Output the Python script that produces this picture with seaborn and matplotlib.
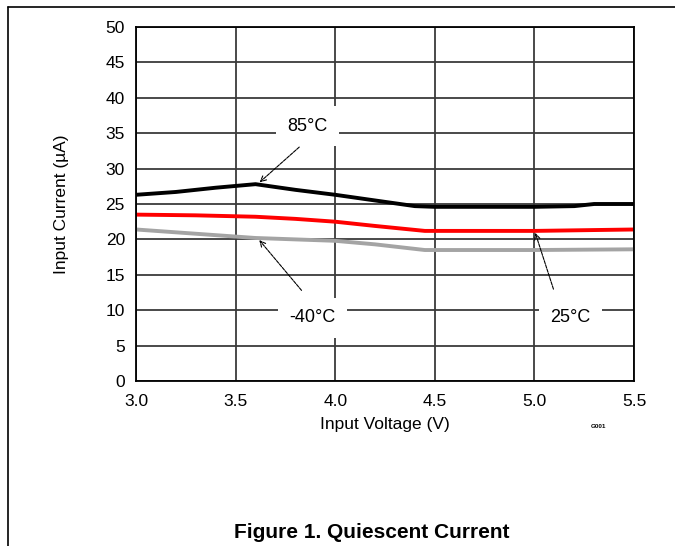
import matplotlib
matplotlib.use("Agg")
import matplotlib.pyplot as plt
import seaborn as sns
import pandas as pd

# Data
v_85 = [3.0, 3.2, 3.4, 3.6, 3.8, 4.0, 4.2, 4.4, 4.5, 5.0, 5.2, 5.3, 5.5]
i_85 = [26.3, 26.7, 27.3, 27.8, 27.0, 26.3, 25.5, 24.7, 24.6, 24.6, 24.7, 25.0, 25.0]
v_25 = [3.0, 3.3, 3.6, 3.8, 4.0, 4.2, 4.45, 5.0, 5.5]
i_25 = [23.5, 23.4, 23.2, 22.9, 22.5, 21.9, 21.2, 21.2, 21.4]
v_m40 = [3.0, 3.3, 3.6, 4.0, 4.2, 4.45, 5.0, 5.5]
i_m40 = [21.4, 20.8, 20.2, 19.8, 19.3, 18.5, 18.5, 18.6]
series_names = ["85°C", "25°C", "-40°C"]
series_colors = ["#000000", "#ff0000", "#a4a4a4"]
x_ticks = [3.0, 3.5, 4.0, 4.5, 5.0, 5.5]
y_ticks = [0, 5, 10, 15, 20, 25, 30, 35, 40, 45, 50]

df = pd.concat([
    pd.DataFrame({"V": v_85, "I": i_85, "T": series_names[0]}),
    pd.DataFrame({"V": v_25, "I": i_25, "T": series_names[1]}),
    pd.DataFrame({"V": v_m40, "I": i_m40, "T": series_names[2]}),
])

sns.set_style("white")
plt.rcParams["font.family"] = ["Liberation Sans", "DejaVu Sans"]
plt.rcParams["text.color"] = "black"
plt.rcParams["axes.labelcolor"] = "black"

fig = plt.figure(figsize=(6.75, 5.46), dpi=100)
ax = fig.add_axes([136/675, 1-381/546, (634-136)/675, (381-27)/546])

ax.set_xlim(3.0, 5.5)
ax.set_ylim(0, 50)
ax.set_xticks(x_ticks)
ax.set_yticks(y_ticks)
ax.set_xticklabels([f"{t:.1f}" for t in x_ticks])
ax.grid(True, color="#3a3a3a", linewidth=1.3)
ax.set_axisbelow(True)
for s in ax.spines.values():
    s.set_color("#000000")
    s.set_linewidth(1.3)
ax.tick_params(axis="both", length=0, labelsize=12.5, colors="#000000")
ax.tick_params(axis="x", pad=9)
ax.tick_params(axis="y", pad=8)

sns.lineplot(data=df, x="V", y="I", hue="T", hue_order=series_names,
             palette=series_colors, linewidth=2.8, legend=False, ax=ax,
             sort=False, estimator=None)

ax.set_xlabel("Input Voltage (V)", fontsize=12.5, labelpad=6, color="black")
ax.set_ylabel("Input Current (µA)", fontsize=12.5, labelpad=26, color="black")

box = dict(facecolor="white", edgecolor="none", pad=8)
arrow = dict(arrowstyle="->", color="#000000", lw=0.8, linestyle=(0, (3, 1)))
ax.annotate("", xy=(3.61, 27.8), xytext=(3.83, 33.3), arrowprops=arrow)
ax.annotate("", xy=(3.61, 20.2), xytext=(3.84, 12.5), arrowprops=arrow)
ax.annotate("", xy=(5.0, 21.3), xytext=(5.10, 12.6), arrowprops=arrow)
ax.text(3.86, 36.0, "85°C", fontsize=13, ha="center", va="center", bbox=box, color="black")
ax.text(3.885, 8.9, "-40°C", fontsize=13, ha="center", va="center", bbox=box, color="black")
ax.text(5.18, 8.9, "25°C", fontsize=13, ha="center", va="center", bbox=box, color="black")

fig.text(598/675, 1-427/546, "G001", fontsize=4.5, fontweight="bold",
         ha="center", va="center", color="black")
fig.text(372/675, 1-532/546, "Figure 1. Quiescent Current", fontsize=15,
         fontweight="bold", ha="center", va="center", color="black")

# outer frame lines (top and left)
fig.add_artist(plt.Line2D([8/675, 1], [1-7/546, 1-7/546], color="black", lw=1.2, transform=fig.transFigure))
fig.add_artist(plt.Line2D([8/675, 8/675], [0, 1-7/546], color="black", lw=1.2, transform=fig.transFigure))

fig.savefig("out.png", dpi=100)
